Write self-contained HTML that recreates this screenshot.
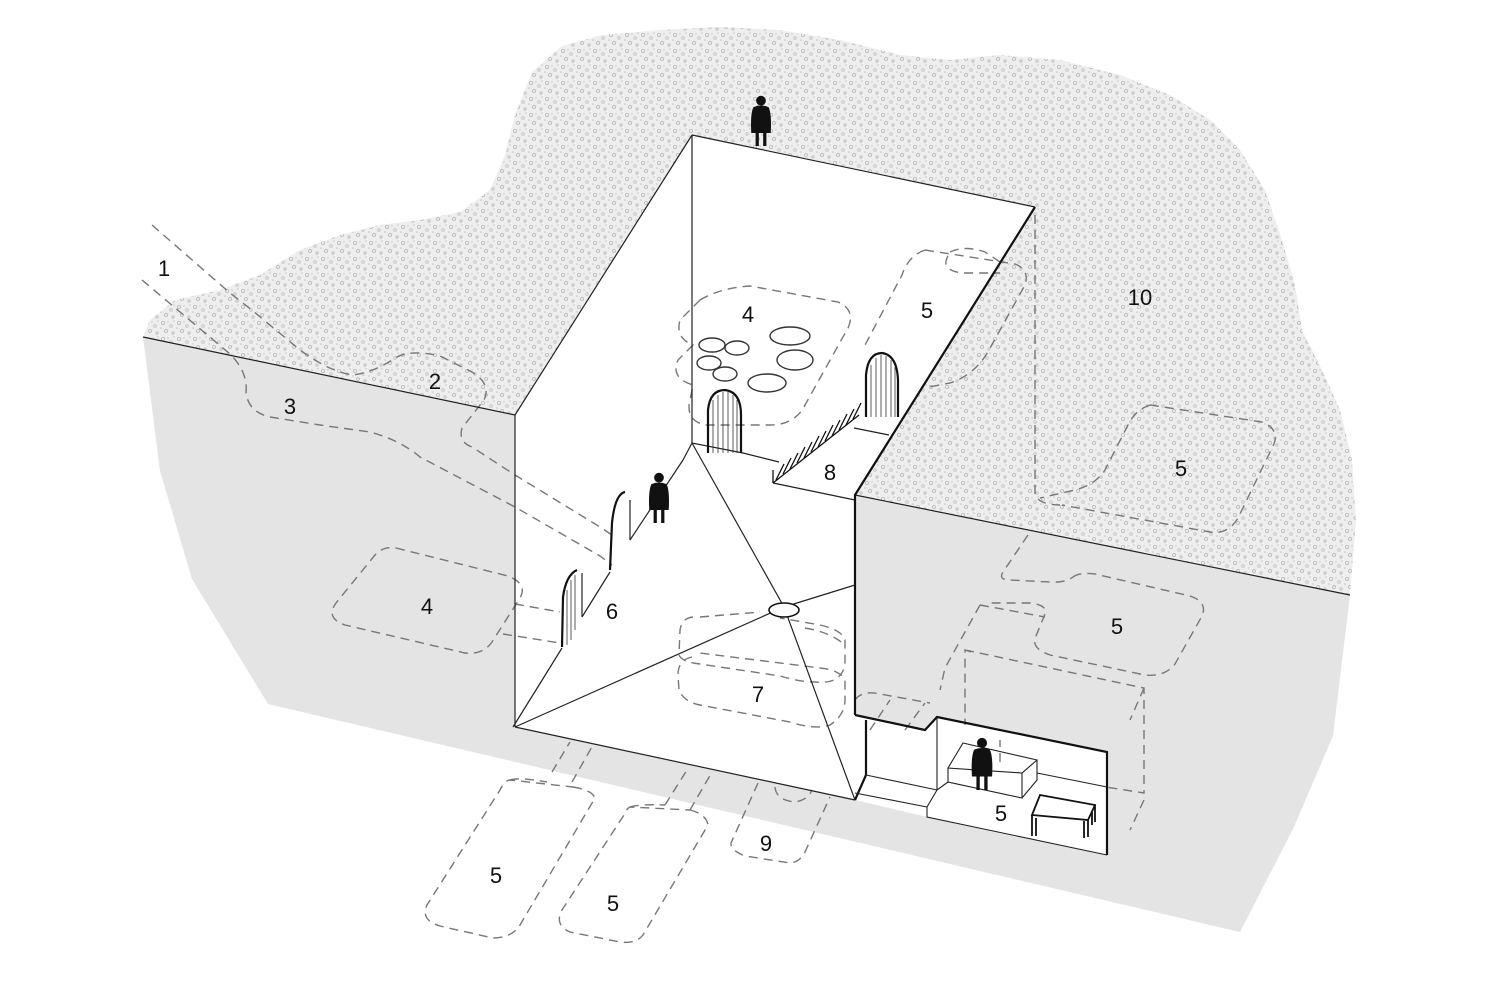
<!DOCTYPE html>
<html><head><meta charset="utf-8"><style>
html,body{margin:0;padding:0;background:#fff;}
svg{display:block;}
text{font-family:"Liberation Sans",sans-serif;font-size:22px;fill:#111;text-anchor:middle;}
</style></head><body>
<svg width="1500" height="1000" viewBox="0 0 1500 1000" xmlns="http://www.w3.org/2000/svg">
<defs>
<pattern id="st" width="16" height="16" patternUnits="userSpaceOnUse">
<rect width="16" height="16" fill="#eeeeee"/>
<circle cx="3" cy="3" r="1.6" fill="none" stroke="#b8b8b8" stroke-width="0.8"/>
<circle cx="11" cy="6" r="1.3" fill="none" stroke="#c0c0c0" stroke-width="0.8"/>
<circle cx="6" cy="11" r="1.5" fill="none" stroke="#b5b5b5" stroke-width="0.8"/>
<circle cx="13" cy="13" r="1.2" fill="none" stroke="#bcbcbc" stroke-width="0.8"/>
<circle cx="8" cy="2" r="0.8" fill="#c4c4c4"/>
<circle cx="1" cy="8" r="0.8" fill="#c4c4c4"/>
<circle cx="14" cy="1" r="0.7" fill="#c4c4c4"/>
</pattern>
<g id="p">
<circle cx="0" cy="-42" r="4.5" fill="#111"/>
<path d="M-7,-36 Q0,-39 7,-36 Q10,-30 9,-12 L-9,-12 Q-10,-30 -7,-36Z" fill="#111"/>
<rect x="-5" y="-13" width="3" height="13" fill="#111"/>
<rect x="2" y="-13" width="3" height="13" fill="#111"/>
</g>
</defs>

<path d="M143,337 L150,320 175,300 220,290 260,275 300,250 340,235 380,225 420,220 460,212 490,190 505,155 515,115 532,72 562,46 602,35 660,30 720,27 780,30 840,40 900,55 950,60 1000,55 1060,60 1120,75 1170,95 1210,120 1240,150 1265,190 1282,240 1295,285 1302,330 1322,370 1340,410 1352,460 1356,520 1350,595 L855,495 L1035,207 L692,135 L515,415 Z" fill="url(#st)"/>

<path d="M143,337 L515,415 L515,727 L855,800 L855,495 L1350,595 L1333,736 L1293,829 L1240,932 L268,704 L192,579 L160,471 Z" fill="#e4e4e4"/>

<path d="M692,135 L1035,207 L855,495 L855,800 L515,727 L515,415 Z" fill="#fff"/>
<path d="M855,715 L925,730 L937,717 L1107,752 L1107,855 L927,817 L855,800 Z" fill="#fff"/>

<g fill="none" stroke="#777" stroke-width="1.4" stroke-dasharray="9,6">
<path d="M152,225 L230,293 L253,311 L300,350 Q330,372 353,375 Q375,372 395,358 Q410,349 440,356 L470,371 Q492,383 484,400 L462,428 Q458,442 472,447 L515,475 L600,527 L612,535"/>
<path d="M142,280 L230,354 Q248,372 246,392 Q248,412 270,417 L320,425 L370,432 Q400,440 420,457 L515,507 L600,556 L612,565"/>
<path d="M396,548 L508,576 Q528,584 520,598 L492,642 Q483,655 465,653 L345,625 Q325,618 336,603 L375,555 Q383,546 396,548Z"/>
<path d="M515,604 L560,612 M503,634 L560,643"/>
<path d="M700,300 Q720,288 750,286 L838,302 Q856,310 848,328 L805,405 Q795,425 770,425 L705,425 Q685,420 690,400 L693,385 Q670,378 678,360 L693,345 Q675,338 680,320 Z"/>
<path d="M925,250 L1015,264 Q1030,270 1025,285 L989,350 Q975,375 950,383 L929,387 M925,250 Q908,256 902,275 L864,347"/>
<path d="M950,252 Q965,245 985,252 L1000,262 M948,256 Q940,270 962,273 L1000,273"/>
<path d="M1035,215 L1035,495 Q1040,505 1060,505"/>
<path d="M1150,405 L1262,422 Q1282,430 1272,448 L1238,518 Q1228,535 1210,532 L1062,505"/>
<path d="M1150,405 Q1135,410 1128,425 L1105,470 Q1095,485 1075,490 L1040,498"/>
<path d="M1028,535 L1003,572 Q998,580 1010,580 L1050,582 Q1065,583 1073,577"/>
<path d="M1073,577 Q1080,572 1095,574 L1190,596 Q1208,602 1202,616 L1175,664 Q1165,677 1145,675 L1050,655 Q1030,648 1036,636 L1045,614 Q1048,605 1030,603 L990,603"/>
<path d="M980,605 L1045,617 M980,605 L945,668 L940,690 M965,650 L1144,688 L1144,793 L1106,787 M1144,688 L1130,720 M1144,800 L1130,830 M971,652 L965,650 L965,725"/>
<path d="M855,700 Q862,690 880,694 L930,703 M870,730 L890,700 M905,730 L925,703"/>
<path d="M693,617 Q682,618 680,630 L679,655 Q682,662 700,664 L780,676 Q800,682 815,682 Q843,685 845,662 L845,640 Q842,630 820,625 L780,618 M700,617 L760,612 M805,628 Q830,632 845,645"/>
<path d="M692,657 Q678,660 678,675 L679,690 Q684,702 700,705 L790,722 Q815,730 830,725 Q845,715 845,700 L845,680 Q840,670 820,668 L700,653"/>
<path d="M510,780 Q520,777 547,782 M573,787 Q592,790 595,798 L520,925 Q512,938 493,938 L440,926 Q420,920 427,905 L500,790 Q505,780 510,780Z"/>
<path d="M552,772 L570,742 M572,782 L593,745"/>
<path d="M630,807 Q640,804 665,805 M690,810 Q706,814 708,825 L643,935 Q636,944 620,942 L570,932 Q554,925 562,910 L624,815 Q627,808 630,807Z"/>
<path d="M665,805 L687,770 M690,810 L712,772"/>
<path d="M758,783 L731,843 Q730,850 745,856 L790,863 Q800,862 805,852 L830,797"/>
<path d="M775,787 Q776,800 795,802 Q808,800 812,790"/>
<path d="M1000,762 L1000,740"/>
</g>

<g fill="none" stroke="#222" stroke-width="1.2">
<path d="M692,135 L1035,207"/>
<path d="M692,135 L515,415"/>
<path d="M692,135 L692,443"/>
<path d="M692,443 L784,607 L855,800"/>
<path d="M784,607 L515,727 M784,607 L855,585"/>
<path d="M683,460 L692,443 L743,453 L779,462"/>
<path d="M515,727 L855,800"/>
<path d="M515,415 L515,727"/>
<path d="M143,337 L515,415"/>
<path d="M855,495 L1350,595"/>
<path d="M683,460 L630,540 M610,572 L582,617 M562,648 L513,727"/>
<path d="M630,540 L630,500 M582,617 L582,573"/>
<path d="M773,483 L855,500 M854,428 L889,435"/>
</g>
<g fill="none" stroke="#111" stroke-width="2.2">
<path d="M1035,207 L855,495 L855,715"/>
<path d="M625,492 Q615,494 612,523 L610,570"/>
<path d="M577,570 Q566,575 563,597 L562,647"/>
<path d="M708,453 L708,410 Q710,390 725,390 Q741,392 741,415 L741,453"/>
<path d="M866,417 L866,375 Q868,353 882,353 Q897,355 898,380 L898,417"/>
</g>
<ellipse cx="784" cy="610" rx="15" ry="7" fill="#fff" stroke="#111" stroke-width="1.6"/>
<g stroke="#333" stroke-width="0.8">
<path d="M713,400V453M718,395V453M723,392V453M728,392V453M733,395V453M737,400V453"/>
<path d="M871,365V417M876,358V417M881,355V417M886,356V417M891,360V417M895,367V417"/>
<path d="M567,590V645M571,580V640M575,575V630"/>
</g>
<g fill="#fff" stroke="#333" stroke-width="1.4">
<ellipse cx="790" cy="336" rx="20" ry="9"/>
<ellipse cx="712" cy="345" rx="13" ry="7"/>
<ellipse cx="737" cy="348" rx="12" ry="7"/>
<ellipse cx="709" cy="363" rx="12" ry="7"/>
<ellipse cx="725" cy="374" rx="12" ry="7"/>
<ellipse cx="795" cy="360" rx="18" ry="10"/>
<ellipse cx="767" cy="383" rx="19" ry="9"/>
</g>
<g stroke="#111" stroke-width="1.3">
<path d="M773,483 L859,415 M773,470 L773,483"/>
<path d="M776,480l8,-16 M783,474l8,-16 M790,469l8,-16 M797,463l8,-16 M804,458l8,-16 M811,452l8,-16 M818,447l8,-16 M825,441l8,-16 M832,436l8,-16 M839,430l8,-16 M846,425l8,-16 M853,419l8,-16"/>
</g>

<g fill="none" stroke="#111" stroke-width="2.2">
<path d="M855,715 L925,730 L937,717 L1107,752 L1107,855"/>
<path d="M866,720 L866,775 L855,800"/>
</g>
<g fill="none" stroke="#222" stroke-width="1.1">
<path d="M866,775 L937,790 M855,793 L927,807"/>
<path d="M937,717 L937,790 L927,807 L927,817 L1107,855"/>
<path d="M963,743 L1037,760 L1022,773 L948,768 Z M948,768 L948,782 L1022,798 L1022,773 M1037,760 L1037,780 L1022,798"/>
<path d="M1037,773 L1107,787"/>
<path d="M937,790 L948,782"/>
</g>
<g fill="none" stroke="#111" stroke-width="1.8">
<path d="M1040,795 L1095,805 L1088,820 L1032,815 Z"/>
<path d="M1032,815 L1032,836 M1036,818 L1036,836 M1084,821 L1084,838 M1088,820 L1088,837 M1095,805 L1095,822 M1092,812 L1092,825"/>
</g>

<use href="#p" transform="translate(761,146) scale(1.08)"/>
<use href="#p" transform="translate(659,523) scale(1.08)"/>
<use href="#p" transform="translate(982,790) scale(1.12)"/>

<text x="164" y="276">1</text>
<text x="435" y="389">2</text>
<text x="290" y="414">3</text>
<text x="427" y="614">4</text>
<text x="748" y="322">4</text>
<text x="927" y="318">5</text>
<text x="1140" y="305">10</text>
<text x="1181" y="476">5</text>
<text x="830" y="480">8</text>
<text x="612" y="619">6</text>
<text x="758" y="702">7</text>
<text x="1117" y="634">5</text>
<text x="1001" y="821">5</text>
<text x="766" y="851">9</text>
<text x="496" y="883">5</text>
<text x="613" y="911">5</text>
</svg>
</body></html>
